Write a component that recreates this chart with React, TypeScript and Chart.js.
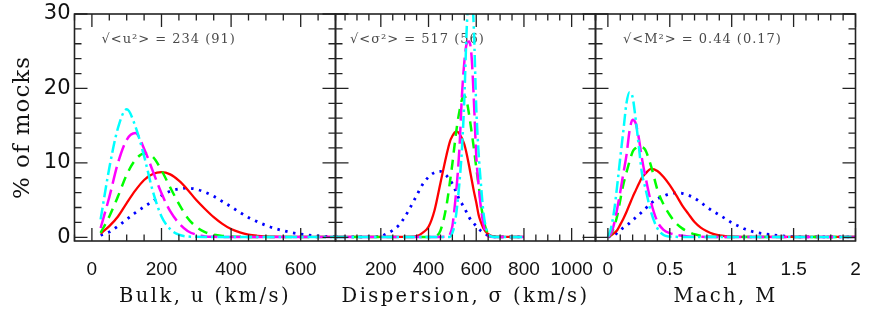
import React, { useEffect, useRef } from 'react';
import { Chart, registerables } from 'chart.js';

Chart.register(...registerables);

// ---------- Panel 1: bulk speed u (km/s) ----------
const bulkU = [25, 50, 75, 100, 125, 150, 175, 200, 225, 250, 275, 300, 325, 350, 375, 400, 425, 450, 475, 500, 525, 550, 575, 600, 650, 700];
const bulkDotted = [0.27, 0.7, 1.5, 2.4, 3.3, 4.1, 4.85, 5.6, 6.2, 6.5, 6.6, 6.45, 6.05, 5.5, 4.8, 4.1, 3.35, 2.65, 2.1, 1.6, 1.2, 0.88, 0.62, 0.42, 0.18, 0.08];
const bulkSolid = [0.5, 1.5, 2.8, 4.6, 6.3, 7.7, 8.5, 8.75, 8.45, 7.6, 6.4, 5.0, 3.8, 2.7, 1.8, 1.1, 0.65, 0.35, 0.2, 0.12, 0.08, 0.06, 0.05, 0.05, 0.05, 0.05];
const bulkDashed = [0.6, 2.8, 5.5, 8.4, 10.4, 11.25, 10.8, 9.0, 6.7, 4.5, 2.6, 1.4, 0.7, 0.35, 0.18, 0.1, 0.06, 0.05, 0.05, 0.05, 0.05, 0.05, 0.05, 0.05, 0.05, 0.05];
const bulkLongDash = [1.25, 5.4, 10.0, 13.1, 14.0, 11.9, 8.9, 5.9, 3.5, 1.9, 0.85, 0.35, 0.12, 0.06, 0.05, 0.05, 0.05, 0.05, 0.05, 0.05, 0.05, 0.05, 0.05, 0.05, 0.05, 0.05];
const bulkDotDash = [2.4, 9.3, 14.7, 17.2, 14.9, 10.9, 6.2, 2.8, 1.1, 0.35, 0.1, 0.06, 0.05, 0.05, 0.05, 0.05, 0.05, 0.05, 0.05, 0.05, 0.05, 0.05, 0.05, 0.05, 0.05, 0.05];
const bulkTicks = [0, 200, 400, 600];

// ---------- Panel 2: dispersion sigma (km/s) ----------
const dispSigma = [10, 150, 200, 225, 250, 275, 300, 325, 350, 375, 400, 425, 450, 475, 490, 500, 510, 520, 530, 540, 550, 560, 570, 580, 590, 600, 610, 620, 630, 640, 650, 660, 675, 700, 750, 800];
const dispDotted = [0.05, 0.05, 0.15, 0.5, 0.95, 1.6, 2.7, 4.1, 5.6, 7.1, 8.1, 8.7, 8.85, 8.3, 7.7, 7.2, 6.5, 5.8, 5.0, 4.5, 3.9, 3.35, 2.7, 2.2, 1.85, 1.5, 1.15, 0.85, 0.6, 0.4, 0.25, 0.14, 0.07, 0.05, 0.05, 0.05];
const dispSolid = [0.05, 0.05, 0.05, 0.05, 0.05, 0.05, 0.05, 0.05, 0.15, 0.6, 1.4, 3.6, 7.3, 11.0, 12.9, 13.6, 14.1, 14.2, 13.9, 13.3, 12.5, 11.2, 9.6, 7.9, 6.2, 4.7, 3.0, 2.0, 1.2, 0.75, 0.45, 0.22, 0.08, 0.05, 0.05, 0.05];
const dispDashed = [0.05, 0.05, 0.05, 0.05, 0.05, 0.05, 0.05, 0.05, 0.05, 0.05, 0.05, 0.1, 0.9, 4.2, 7.5, 9.9, 12.6, 15.1, 17.0, 18.5, 19.0, 18.3, 16.5, 14.3, 12.0, 9.4, 7.0, 4.4, 2.5, 1.2, 0.5, 0.2, 0.07, 0.05, 0.05, 0.05];
const dispLongDash = [0.05, 0.05, 0.05, 0.05, 0.05, 0.05, 0.05, 0.05, 0.05, 0.05, 0.05, 0.05, 0.05, 0.07, 0.4, 1.5, 4.2, 7.6, 12.2, 19.0, 23.5, 26.0, 26.3, 24.5, 18.5, 11.0, 7.0, 3.9, 1.8, 0.6, 0.15, 0.06, 0.05, 0.05, 0.05, 0.05];
const dispDotDash = [0.05, 0.05, 0.05, 0.05, 0.05, 0.05, 0.05, 0.05, 0.05, 0.05, 0.05, 0.05, 0.05, 0.05, 0.05, 0.6, 1.8, 4.2, 7.5, 11.8, 18.5, 28, 33, 33, 28, 17.5, 11.3, 7.0, 3.4, 1.4, 0.5, 0.15, 0.05, 0.05, 0.05, 0.05];
const dispTicks = [200, 400, 600, 800, 1000];

// ---------- Panel 3: Mach number M ----------
const machM = [0, 0.025, 0.05, 0.075, 0.1, 0.125, 0.15, 0.175, 0.2, 0.225, 0.25, 0.275, 0.3, 0.35, 0.4, 0.45, 0.5, 0.55, 0.6, 0.65, 0.7, 0.75, 0.8, 0.85, 0.9, 0.95, 1.0, 1.05, 1.1, 1.15, 1.2, 1.3, 1.4, 1.5, 1.6, 1.8, 2.0];
const machDotted = [0.05, 0.1, 0.25, 0.6, 0.95, 1.3, 1.6, 1.9, 2.3, 2.65, 3.0, 3.4, 3.8, 4.6, 5.15, 5.55, 5.85, 5.95, 5.9, 5.65, 5.25, 4.7, 4.05, 3.5, 3.0, 2.5, 1.95, 1.55, 1.15, 0.85, 0.65, 0.4, 0.2, 0.08, 0.05, 0.05, 0.05];
const machSolid = [0.05, 0.25, 0.55, 0.95, 1.7, 2.5, 3.4, 4.4, 5.4, 6.3, 7.2, 8.0, 8.5, 9.2, 8.9, 8.1, 7.0, 5.7, 4.3, 3.15, 2.05, 1.3, 0.8, 0.45, 0.25, 0.15, 0.1, 0.07, 0.05, 0.05, 0.05, 0.05, 0.05, 0.05, 0.05, 0.05, 0.05];
const machDashed = [0.05, 0.4, 1.4, 2.85, 5.0, 7.1, 8.7, 10.2, 11.5, 12.0, 12.2, 12.1, 11.8, 9.5, 6.4, 4.4, 3.0, 1.9, 1.2, 0.75, 0.4, 0.2, 0.12, 0.07, 0.05, 0.05, 0.05, 0.05, 0.05, 0.05, 0.05, 0.05, 0.05, 0.05, 0.05, 0.05, 0.05];
const machLongDash = [0.05, 0.5, 1.8, 3.8, 6.1, 8.6, 11.0, 14.3, 15.8, 15.3, 13.3, 10.6, 8.4, 4.6, 2.1, 1.0, 0.55, 0.35, 0.2, 0.12, 0.08, 0.06, 0.05, 0.05, 0.05, 0.05, 0.05, 0.05, 0.05, 0.05, 0.05, 0.05, 0.05, 0.05, 0.05, 0.05, 0.05];
const machDotDash = [0.05, 1.2, 3.5, 6.9, 10.7, 14.3, 18.0, 19.5, 18.8, 15.8, 12.2, 8.6, 6.8, 3.3, 1.2, 0.3, 0.1, 0.06, 0.05, 0.05, 0.05, 0.05, 0.05, 0.05, 0.05, 0.05, 0.05, 0.05, 0.05, 0.05, 0.05, 0.05, 0.05, 0.05, 0.05, 0.05, 0.05];
const machTicks = [0, 0.5, 1, 1.5, 2];

const yTicks = [0, 10, 20, 30];

// ---------- styles ----------
const lineStyles = {
  dotDash: { color: '#00ffff', dash: [12, 4, 2.5, 4], width: 2.5 },
  longDash: { color: '#ff00ff', dash: [17, 6], width: 2.5 },
  dashed: { color: '#00ff00', dash: [10, 7], width: 2.5 },
  solid: { color: '#ff0000', dash: [] as number[], width: 2.3 },
  dotted: { color: '#0000ff', dash: [2.5, 5.5], width: 2.8 },
};

// widen a scale title with letter spacing (the reference uses a wide plotting font)
function spacedTitle(s: any, spacing: string) {
  if (s._spacedTitle) return;
  const orig = s.drawTitle.bind(s);
  s.drawTitle = function () {
    const c = s.ctx;
    c.save();
    try { c.letterSpacing = spacing; } catch (e) { /* ignore */ }
    orig();
    c.restore();
  };
  s._spacedTitle = true;
}

const framePlugin = {
  id: 'frame',
  beforeDatasetsDraw(chart: any, _args: any, opts: any) {
    const { ctx, chartArea } = chart;
    ctx.save();
    ctx.font = '13px "DejaVu Serif", serif';
    ctx.fillStyle = '#4a4a4a';
    ctx.textBaseline = 'middle';
    ctx.textAlign = 'left';
    try { (ctx as any).letterSpacing = '1px'; } catch (e) { /* ignore */ }
    ctx.fillText(opts.note, chartArea.left + opts.noteDx, chartArea.top + 26);
    try { (ctx as any).letterSpacing = '0px'; } catch (e) { /* ignore */ }
    ctx.restore();
  },
  afterDatasetsDraw(chart: any, _args: any, opts: any) {
    const { ctx, chartArea: { left, right, top, bottom }, scales: { x, y } } = chart;
    ctx.save();
    ctx.strokeStyle = '#222';
    ctx.lineWidth = 1.3;
    ctx.beginPath();
    const nx = Math.round((opts.xEnd - opts.xStart) / opts.xMinor);
    for (let i = 0; i <= nx; i++) {
      const v = opts.xStart + i * opts.xMinor;
      const px = x.getPixelForValue(v);
      const r = v / opts.xMajor;
      const major = Math.abs(r - Math.round(r)) < 1e-6;
      const len = major ? 13 : 6.5;
      ctx.moveTo(px, bottom); ctx.lineTo(px, bottom - len);
      ctx.moveTo(px, top); ctx.lineTo(px, top + len);
    }
    for (let v = 0; v <= 30; v += 2) {
      const py = y.getPixelForValue(v);
      const len = v % 10 === 0 ? 13 : 7;
      ctx.moveTo(left, py); ctx.lineTo(left + len, py);
      ctx.moveTo(right, py); ctx.lineTo(right - len, py);
    }
    ctx.stroke();
    ctx.lineWidth = 1.6;
    ctx.strokeRect(left, top, right - left, bottom - top);
    ctx.restore();
  },
};

type PanelDef = {
  canvasLeft: number;
  canvasWidth: number;
  padLeft: number;
  padRight: number;
  xMin: number;
  xMax: number;
  xs: number[];
  series: { style: keyof typeof lineStyles; values: number[] }[];
  ticks: number[];
  title: string;
  showY: boolean;
  note: string;
  noteDx: number;
  xStart: number;
  xMinor: number;
  xMajor: number;
};

const panels: PanelDef[] = [
  {
    canvasLeft: 0, canvasWidth: 340, padLeft: 0, padRight: 4.5,
    xMin: -50, xMax: 700, xs: bulkU,
    series: [
      { style: 'dotDash', values: bulkDotDash },
      { style: 'longDash', values: bulkLongDash },
      { style: 'dashed', values: bulkDashed },
      { style: 'solid', values: bulkSolid },
      { style: 'dotted', values: bulkDotted },
    ],
    ticks: bulkTicks, title: 'Bulk, u (km/s)', showY: true,
    note: '√<u²> = 234 (91)', noteDx: 27,
    xStart: -50, xMinor: 50, xMajor: 200,
  },
  {
    canvasLeft: 330, canvasWidth: 272, padLeft: 5.5, padRight: 6.5,
    xMin: 10, xMax: 1100, xs: dispSigma,
    series: [
      { style: 'dotDash', values: dispDotDash },
      { style: 'longDash', values: dispLongDash },
      { style: 'dashed', values: dispDashed },
      { style: 'solid', values: dispSolid },
      { style: 'dotted', values: dispDotted },
    ],
    ticks: dispTicks, title: 'Dispersion, σ (km/s)', showY: false,
    note: '√<σ²> = 517 (56)', noteDx: 14.5,
    xStart: 50, xMinor: 50, xMajor: 200,
  },
  {
    canvasLeft: 590, canvasWidth: 282, padLeft: 5.5, padRight: 16.5,
    xMin: -0.1, xMax: 2.0, xs: machM,
    series: [
      { style: 'dotDash', values: machDotDash },
      { style: 'longDash', values: machLongDash },
      { style: 'dashed', values: machDashed },
      { style: 'solid', values: machSolid },
      { style: 'dotted', values: machDotted },
    ],
    ticks: machTicks, title: 'Mach, M', showY: false,
    note: '√<M²> = 0.44 (0.17)', noteDx: 27.5,
    xStart: -0.1, xMinor: 0.1, xMajor: 0.5,
  },
];

const HEIGHT = 317;

function buildChart(canvas: HTMLCanvasElement, p: PanelDef) {
  const datasets = p.series.map((s) => {
    const st = lineStyles[s.style];
    return {
      data: p.xs.map((x, i) => ({ x, y: s.values[i] })),
      borderColor: st.color,
      backgroundColor: st.color,
      borderDash: st.dash,
      borderWidth: st.width,
      pointRadius: 0,
      fill: false,
      cubicInterpolationMode: 'monotone' as const,
    };
  });
  return new Chart(canvas, {
    type: 'line',
    data: { datasets },
    options: {
      animation: false,
      responsive: false,
      events: [],
      layout: { padding: { top: 14, bottom: 0, left: p.padLeft, right: p.padRight } },
      plugins: {
        legend: { display: false },
        tooltip: { enabled: false },
        frame: { note: p.note, noteDx: p.noteDx, xStart: p.xStart, xEnd: p.xMax, xMinor: p.xMinor, xMajor: p.xMajor },
      } as any,
      scales: {
        x: {
          type: 'linear',
          min: p.xMin,
          max: p.xMax,
          afterBuildTicks: (s: any) => { s.ticks = p.ticks.map((v) => ({ value: v })); },
          afterFit: (s: any) => { s.height = HEIGHT - 241; spacedTitle(s, '2.4px'); },
          ticks: {
            padding: 0,
            autoSkip: false,
            maxRotation: 0,
            color: '#111',
            font: { family: '"Liberation Sans", Arial, sans-serif', size: 19 },
            callback: (v: any) => String(v),
          },
          grid: { display: true, drawOnChartArea: false, drawTicks: true, tickLength: 17.5, color: 'rgba(0,0,0,0)' },
          border: { display: false },
          title: {
            display: true,
            text: p.title,
            color: '#111',
            font: { family: '"DejaVu Serif", serif', size: 19.5 },
            padding: { top: 0, bottom: 8 },
          },
        },
        y: {
          type: 'linear',
          display: p.showY,
          min: -0.5,
          max: 30,
          afterBuildTicks: (s: any) => { s.ticks = yTicks.map((v) => ({ value: v })); },
          afterFit: (s: any) => { s.width = p.showY ? 74.5 : 0; spacedTitle(s, '1px'); },
          ticks: {
            padding: 0,
            color: '#111',
            font: { family: '"DejaVu Sans", sans-serif', size: 21 },
            callback: (v: any) => String(v),
          },
          grid: { display: true, drawOnChartArea: false, drawTicks: true, tickLength: 4, color: 'rgba(0,0,0,0)' },
          border: { display: false },
          title: {
            display: true,
            text: '% of mocks',
            color: '#111',
            font: { family: '"DejaVu Serif", serif', size: 23 },
            padding: { top: 9, bottom: 0 },
          },
        },
      },
    },
    plugins: [framePlugin],
  });
}

export default function App() {
  const r1 = useRef<HTMLCanvasElement>(null);
  const r2 = useRef<HTMLCanvasElement>(null);
  const r3 = useRef<HTMLCanvasElement>(null);

  useEffect(() => {
    const refs = [r1, r2, r3];
    const charts = panels.map((p, i) => buildChart(refs[i].current as HTMLCanvasElement, p));
    return () => charts.forEach((c) => c.destroy());
  }, []);

  const refs = [r1, r2, r3];
  return (
    <div style={{ position: 'fixed', left: 0, top: 0, width: 872, height: HEIGHT, background: '#fff', overflow: 'hidden' }}>
      {panels.map((p, i) => (
        <canvas
          key={i}
          ref={refs[i]}
          width={p.canvasWidth}
          height={HEIGHT}
          style={{ position: 'absolute', left: p.canvasLeft, top: 0, width: p.canvasWidth, height: HEIGHT }}
        />
      ))}
    </div>
  );
}
